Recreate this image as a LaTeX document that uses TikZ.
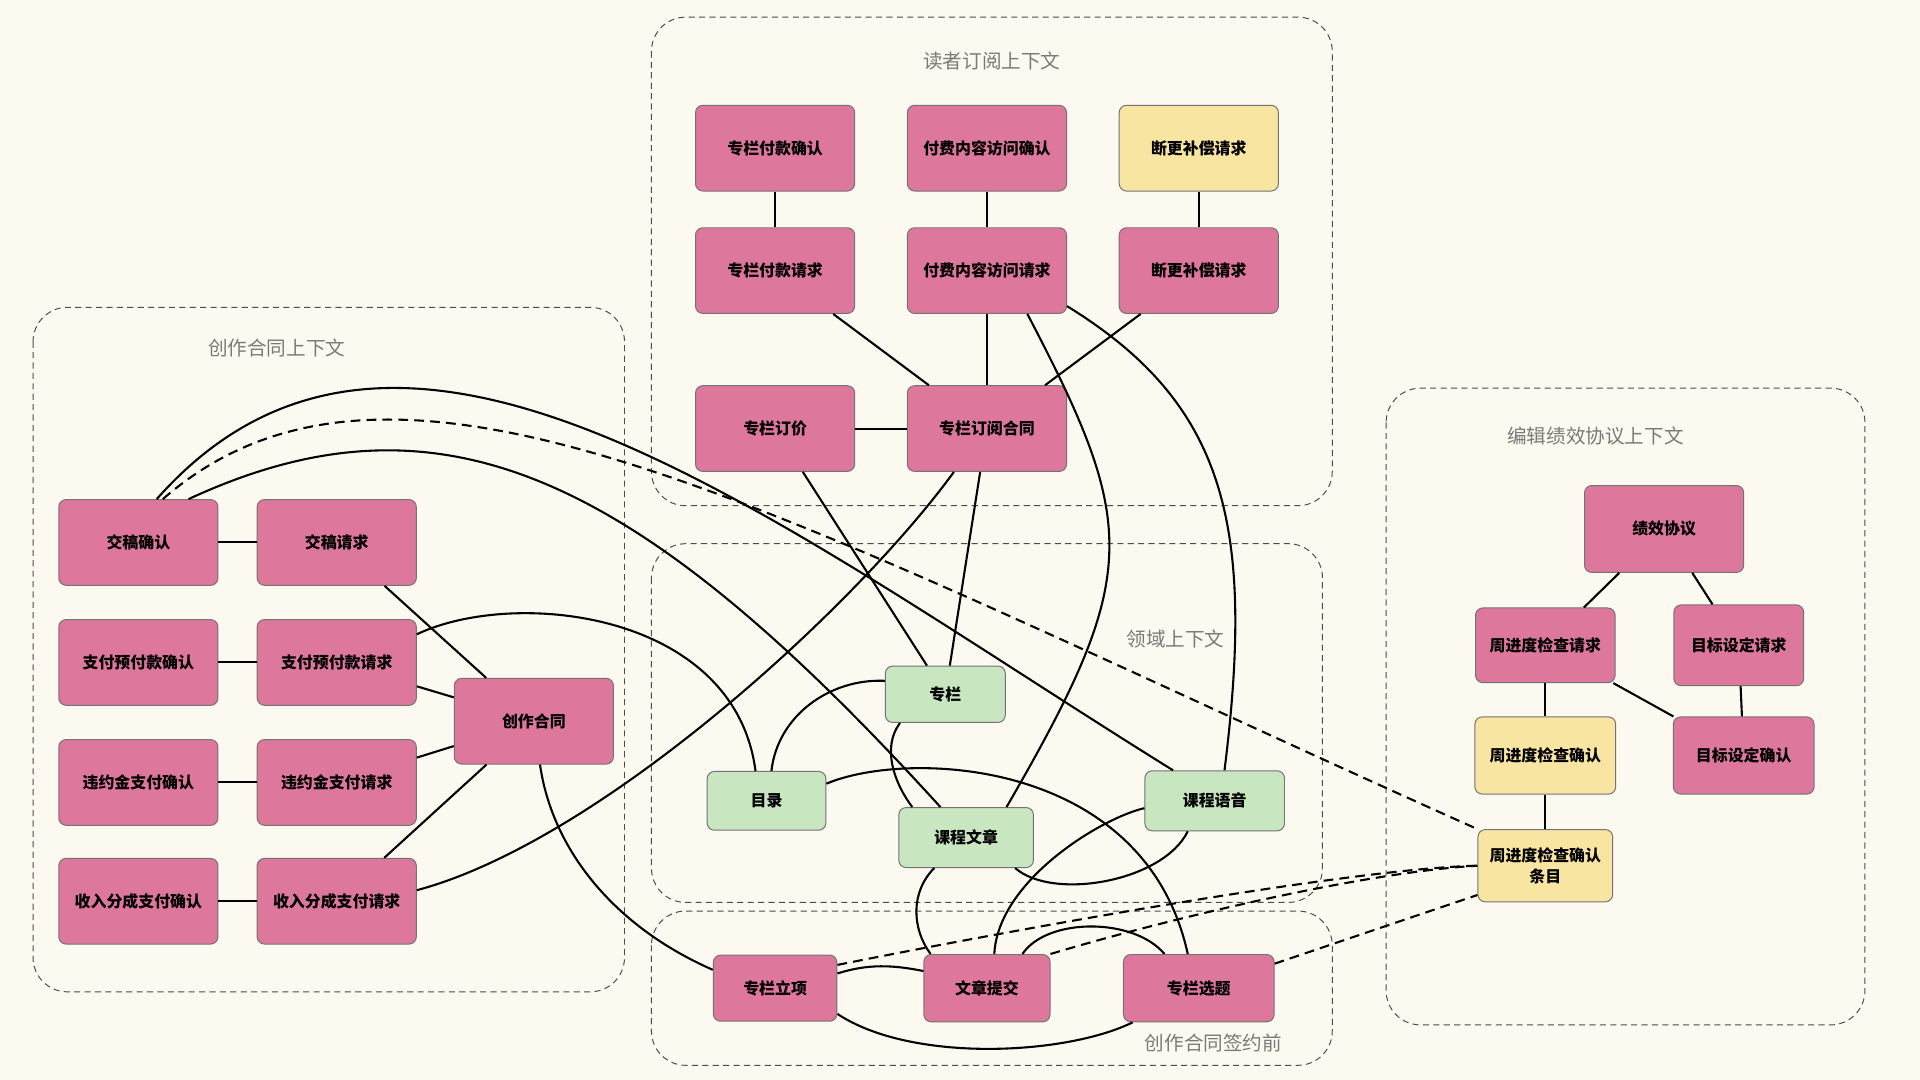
\documentclass[tikz,border=0pt]{standalone}
\usepackage{fontspec}
\setmainfont{Noto Sans CJK SC}
\usepackage{tikz}

\definecolor{bgcream}{HTML}{FBF9F0}
\definecolor{aggpink}{HTML}{DE779C}
\definecolor{evtyellow}{HTML}{F9E5A2}
\definecolor{entgreen}{HTML}{C8E6C0}
\definecolor{ctxgray}{HTML}{7A7A7A}

\tikzset{
  box/.style={draw=black!55, line width=0.8pt, rounded corners=6pt, align=center,
    inner sep=2pt, font=\bfseries\fontsize{13}{17}\selectfont},
  pinkbox/.style={box, fill=aggpink, minimum width=130pt, minimum height=70pt},
  yellowbox/.style={box, fill=evtyellow, minimum width=130pt, minimum height=70pt},
  greenbox/.style={box, fill=entgreen},
  ctxbox/.style={draw=black!70, line width=0.8pt, dash pattern=on 5pt off 3.5pt, rounded corners=28pt},
  ctxtitle/.style={text=ctxgray, font=\fontsize{16}{18}\selectfont},
  link/.style={draw=black, line width=1.7pt},
  dlink/.style={link, dash pattern=on 8pt off 5pt}
}

\begin{document}
\begin{tikzpicture}[x=1pt, y=-1pt]
\fill[bgcream] (0,0) rectangle (1568,882);

% contexts
\draw[ctxbox] (532,14) rectangle (1088,413);
\draw[ctxbox] (27,251) rectangle (510,810);
\draw[ctxbox] (532,444) rectangle (1080,737);
\draw[ctxbox] (532,744) rectangle (1088,870);
\draw[ctxbox] (1132,317) rectangle (1523,837);
\node[ctxtitle] (readertitle) at (810,50) {读者订阅上下文};
\node[ctxtitle] (creationtitle) at (226,284) {创作合同上下文};
\node[ctxtitle] (domaintitle) at (960,522) {领域上下文};
\node[ctxtitle] (presigntitle) at (991,852) {创作合同签约前};
\node[ctxtitle] (perftitle) at (1303,356) {编辑绩效协议上下文};

% reader subscription
\node[pinkbox] (payack) at (633,121) {专栏付款确认};
\node[pinkbox] (accessack) at (806,121) {付费内容访问确认};
\node[yellowbox] (compack) at (979,121) {断更补偿请求};
\node[pinkbox] (payreq) at (633,221) {专栏付款请求};
\node[pinkbox] (accessreq) at (806,221) {付费内容访问请求};
\node[pinkbox] (compreq) at (979,221) {断更补偿请求};
\node[pinkbox] (pricing) at (633,350) {专栏订价};
\node[pinkbox] (subcontract) at (806,350) {专栏订阅合同};

% creation contract
\node[pinkbox] (submitack) at (113,443) {交稿确认};
\node[pinkbox] (submitreq) at (275,443) {交稿请求};
\node[pinkbox] (advack) at (113,541) {支付预付款确认};
\node[pinkbox] (advreq) at (275,541) {支付预付款请求};
\node[pinkbox] (penack) at (113,639) {违约金支付确认};
\node[pinkbox] (penreq) at (275,639) {违约金支付请求};
\node[pinkbox] (revack) at (113,736) {收入分成支付确认};
\node[pinkbox] (revreq) at (275,736) {收入分成支付请求};
\node[pinkbox] (contract) at (436,589) {创作合同};

% domain
\node[greenbox, minimum width=98pt, minimum height=46pt] (column) at (772,567) {专栏};
\node[greenbox, minimum width=97pt, minimum height=48pt] (catalog) at (626,654) {目录};
\node[greenbox, minimum width=110pt, minimum height=49pt] (article) at (789,684) {课程文章};
\node[greenbox, minimum width=114pt, minimum height=49pt] (audio) at (992,654) {课程语音};

% before signing
\node[pinkbox, minimum width=101pt, minimum height=54pt] (proposal) at (633,807) {专栏立项};
\node[pinkbox, minimum width=103pt, minimum height=55pt] (articlesub) at (806,807) {文章提交};
\node[pinkbox, minimum width=123pt, minimum height=55pt] (topic) at (979,807) {专栏选题};

% editor performance
\node[pinkbox, minimum width=130pt, minimum height=71pt] (perf) at (1359,432) {绩效协议};
\node[pinkbox, minimum width=114pt, minimum height=61pt] (weekreq) at (1262,527) {周进度检查请求};
\node[pinkbox, minimum width=106pt, minimum height=66pt] (goalreq) at (1420,527) {目标设定请求};
\node[yellowbox, minimum width=115pt, minimum height=63pt] (weekack) at (1262,617) {周进度检查确认};
\node[pinkbox, minimum width=115pt, minimum height=63pt] (goalack) at (1424,617) {目标设定确认};
\node[yellowbox, minimum width=110pt, minimum height=59pt] (weekitem) at (1262,707) {周进度检查确认\\条目};

% straight links
\draw[link] (payack) -- (payreq);
\draw[link] (accessack) -- (accessreq);
\draw[link] (compack) -- (compreq);
\draw[link] (payreq) -- (subcontract);
\draw[link] (accessreq) -- (subcontract);
\draw[link] (compreq) -- (subcontract);
\draw[link] (pricing) -- (subcontract);
\draw[link] (pricing) -- (column);
\draw[link] (subcontract) -- (column);
\draw[link] (submitack) -- (submitreq);
\draw[link] (advack) -- (advreq);
\draw[link] (penack) -- (penreq);
\draw[link] (revack) -- (revreq);
\draw[link] (submitreq) -- (contract);
\draw[link] (advreq) -- (contract);
\draw[link] (penreq) -- (contract);
\draw[link] (revreq) -- (contract);
\draw[link] (perf) -- (weekreq);
\draw[link] (perf) -- (goalreq);
\draw[link] (weekreq) -- (weekack);
\draw[link] (weekreq) -- (goalack);
\draw[link] (goalreq) -- (goalack);
\draw[link] (weekack) -- (weekitem);

% curved links
\draw[link] ([xshift=33pt]accessreq.south) .. controls +(91,174) and +(110,-190) .. ([xshift=33pt]article.north);
\draw[link] ([yshift=-29pt]accessreq.east) .. controls +(130,80) and +(25,-200) .. ([xshift=8pt]audio.north);
\draw[link] ([xshift=-27pt]subcontract.south) .. controls +(-80,110) and +(150,-40) .. ([yshift=9pt]revreq.east);
\draw[link] ([yshift=23pt]advreq.east) .. controls +(80,-38) and +(-17,-130) .. ([xshift=-9pt]catalog.north);
\draw[link] ([xshift=5pt]contract.south) .. controls +(10,70) and +(-80,-35) .. ([yshift=15pt]proposal.west);
\draw[link] ([xshift=15pt]submitack.north) .. controls +(200,-226) and +(-330,-205) .. ([xshift=-34pt]audio.north);
\draw[dlink] ([xshift=20pt]submitack.north) .. controls +(195,-170) and +(-560,-250) .. (weekitem.north west);
\draw[link] ([xshift=41pt]submitack.north) .. controls +(205,-95) and +(-250,-275) .. ([xshift=-21pt]article.north);
\draw[link] ([yshift=11pt]column.west) .. controls +(-45,-2) and +(5,-45) .. ([xshift=4pt]catalog.north);
\draw[link] ([xshift=-37pt]column.south) .. controls +(-15,20) and +(-15,-20) .. ([xshift=-44pt]article.north);
\draw[link] ([yshift=14pt]catalog.east) .. controls +(66,-28) and +(-35,-160) .. ([xshift=-9pt]topic.north);
\draw[link] ([xshift=40pt]article.south) .. controls +(31,27) and +(-20,41) .. ([xshift=-22pt]audio.south);
\draw[link] ([yshift=-6pt]audio.west) .. controls +(-35,8) and +(3,-60) .. ([xshift=6pt]articlesub.north);
\draw[link] ([xshift=-26pt]article.south) .. controls +(-20,20) and +(-15,-20) .. ([xshift=-46pt]articlesub.north);
\draw[link] ([yshift=12pt]proposal.east) .. controls +(25,-8) and +(-25,-5) .. ([yshift=14pt]articlesub.west);
\draw[link] ([yshift=-21pt]proposal.east) .. controls +(60,40) and +(-55,27) .. ([xshift=-54pt]topic.south);
\draw[link] ([xshift=29pt]articlesub.north) .. controls +(20,-30) and +(-25,-30) .. ([xshift=-28pt]topic.north);
\draw[dlink] ([yshift=19pt]proposal.east) .. controls +(150,-30) and +(-100,2) .. (weekitem.west);
\draw[dlink] (articlesub.north east) .. controls +(100,-30) and +(-90,5) .. (weekitem.west);
\draw[dlink] ([yshift=20pt]topic.east) -- ([yshift=6pt]weekitem.south west);
\end{tikzpicture}
\end{document}
